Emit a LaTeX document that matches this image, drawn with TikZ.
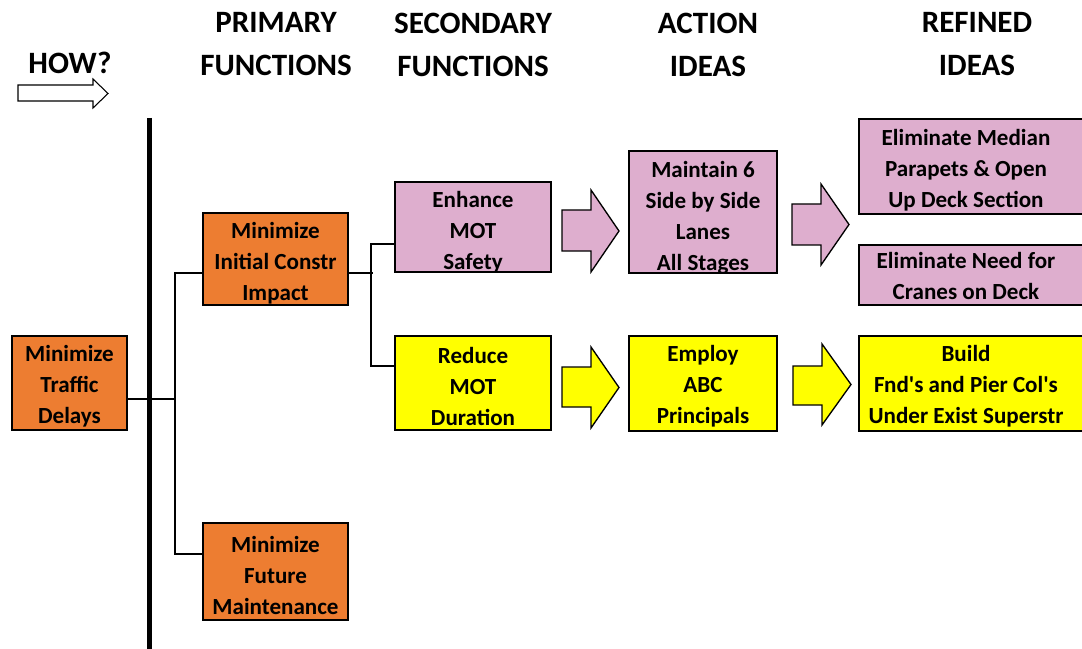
\documentclass[tikz,border=0pt]{standalone}
\usepackage{fontspec}
\setmainfont{Carlito}[Ligatures=TeXOff]
\definecolor{fnorange}{RGB}{237,125,49}
\definecolor{idpink}{RGB}{222,174,206}
\definecolor{idyellow}{RGB}{255,255,0}
% box placed by its corners (x1,y1) and (x2,y2), in pixel units;
% its text is centred horizontally at the box centre and vertically at #7
\newcommand\pxbox[8]{\node[#1, minimum width={(#5-#3)*0.75pt}, minimum height={(#6-#4)*0.75pt}] (#2) at ({(#3+#5)/2},{(#4+#6)/2}) {};
  \node[boxtext] (#2text) at ({(#3+#5)/2},#7) {#8};}
\begin{document}
\begin{tikzpicture}[x=0.75pt,y=-0.75pt,
  box/.style={draw=black, line width=1.5pt, inner sep=0pt},
  boxtext/.style={align=center, inner sep=0pt, font=\bfseries\fontsize{17.3}{23.25}\selectfont},
  fnbox/.style={box, fill=fnorange},
  pkbox/.style={box, fill=idpink},
  ylbox/.style={box, fill=idyellow},
  header/.style={align=center, inner sep=0pt, font=\bfseries\fontsize{23.3}{32.25}\selectfont},
  link/.style={draw=black, line width=1.3pt},
  blockarrow/.style={draw=black, line width=1pt, line join=miter}]
\clip (0,0) rectangle (1082,649);

% column headings
\node[header] (how) at (70,63) {HOW?};
\node[header] (hprim) at (276,44.5) {PRIMARY\\FUNCTIONS};
\node[header] (hsec) at (473,44.5) {SECONDARY\\FUNCTIONS};
\node[header] (hact) at (708,44.5) {ACTION\\IDEAS};
\node[header] (href) at (977,44.5) {REFINED\\IDEAS};

% direction arrow under HOW?
\draw[line width=0.8pt, fill=white, line join=miter]
  (18,85) -- (93,85) -- (93,79) -- (108,93.5) -- (93,108) -- (93,101) -- (18,101) -- cycle;

% thick scope line
\coordinate (scopetop) at (149.5,118);
\coordinate (scopebot) at (149.5,660);
\draw[line width=3.3pt] (scopetop) -- (scopebot);

% function boxes
\pxbox{fnbox}{traffic}{12}{336}{127}{430}{386}{Minimize\\Traffic\\Delays}
\pxbox{fnbox}{initial}{203}{213}{348}{305}{263}{Minimize\\Initial Constr\\Impact}
\pxbox{fnbox}{future}{203}{523}{348}{620}{575}{Minimize\\Future\\Maintenance}
\pxbox{pkbox}{enhance}{395}{182}{551}{272}{232.5}{Enhance\\MOT\\Safety}
\pxbox{ylbox}{reduce}{395}{336}{551}{430}{386}{Reduce\\MOT\\Duration}

% idea boxes
\pxbox{pkbox}{maintain}{629}{151}{777}{273}{218}{Maintain 6\\Side by Side\\Lanes\\All Stages}
\pxbox{ylbox}{employ}{629}{336}{777}{431}{386.5}{Employ\\ABC\\Principals}
\node[pkbox, minimum width={236*0.75pt}, minimum height={95*0.75pt}] (median) at (977,166.5) {};
\node[pkbox, minimum width={236*0.75pt}, minimum height={60*0.75pt}] (cranes) at (977,275) {};
\node[ylbox, minimum width={236*0.75pt}, minimum height={95*0.75pt}] (build) at (977,383.5) {};
\node[boxtext] (mediantext) at (966,170) {Eliminate Median\\Parapets \& Open\\Up Deck Section};
\node[boxtext] (cranestext) at (966,276) {Eliminate Need for\\Cranes on Deck};
\node[boxtext] (buildtext) at (966,386) {Build\\Fnd's and Pier Col's\\Under Exist Superstr};

% tree connectors
\coordinate (j1) at (175,399);
\coordinate (j1a) at (175,273);
\coordinate (j1b) at (175,554);
\draw[link] (traffic.east |- j1) -- (j1);
\draw[link] (initial.west |- j1a) -- (j1a) -- (j1b) -- (future.west |- j1b);

\coordinate (j2) at (372.5,273);
\coordinate (j2a) at (371,244);
\coordinate (j2b) at (371,366);
\draw[link] (initial.east |- j2) -- (j2);
\draw[link] (enhance.west |- j2a) -- (j2a) -- (j2b) -- (reduce.west |- j2b);

% block arrows between columns
\draw[blockarrow, fill=idpink]
  (562,210) -- (591,210) -- (591,190) -- (619,231) -- (591,272) -- (591,251) -- (562,251) -- cycle;
\draw[blockarrow, fill=idpink]
  (792,204) -- (821,204) -- (821,184) -- (849,224.5) -- (821,265) -- (821,245) -- (792,245) -- cycle;
\draw[blockarrow, fill=idyellow]
  (562,367) -- (591,367) -- (591,347) -- (619,387.5) -- (591,428) -- (591,407) -- (562,407) -- cycle;
\draw[blockarrow, fill=idyellow]
  (793,366) -- (822,366) -- (822,344) -- (851,384.5) -- (822,425) -- (822,405) -- (793,405) -- cycle;
\end{tikzpicture}
\end{document}
